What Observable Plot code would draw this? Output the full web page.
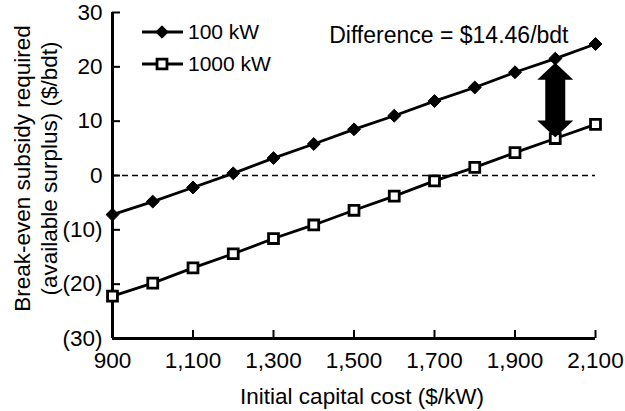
<!DOCTYPE html>
<html><head><meta charset="utf-8">
<script src="https://cdn.jsdelivr.net/npm/d3@7"></script>
<script src="https://cdn.jsdelivr.net/npm/@observablehq/plot@0.6"></script>
<style>
body{margin:0;background:#fff;}
#wrap{position:relative;width:625px;height:411px;font-family:"Liberation Sans",Arial,Helvetica,sans-serif;}
#legend{position:absolute;left:140px;top:16px;}
</style>
</head><body><div id="wrap"></div>
<script>
// ---- data ----
const capitalCost = [900, 1000, 1100, 1200, 1300, 1400, 1500, 1600, 1700, 1800, 1900, 2000, 2100];
const series100kW = [-7.2, -4.8, -2.2, 0.4, 3.2, 5.8, 8.5, 11.0, 13.7, 16.2, 19.0, 21.5, 24.2];
const series1000kW = [-22.2, -19.8, -17.0, -14.4, -11.6, -9.1, -6.4, -3.8, -1.0, 1.5, 4.2, 6.8, 9.4];
const seriesNames = ["100 kW", "1000 kW"];
const xTicks = [900, 1100, 1300, 1500, 1700, 1900, 2100];
const yTicks = [-30, -20, -10, 0, 10, 20, 30];
const xDomain = [900, 2100];
const yDomain = [-30, 30];
const arrowAt = 2000;
const annotation = "Difference = $14.46/bdt";
const xTitle = "Initial capital cost ($/kW)";
const yTitle = "Break-even subsidy required\n(available surplus) ($/bdt)";

const rows = capitalCost.flatMap((c, i) => [
  {cost: c, value: series100kW[i], series: seriesNames[0]},
  {cost: c, value: series1000kW[i], series: seriesNames[1]}
]);
const d100 = rows.filter(d => d.series === seriesNames[0]);
const d1000 = rows.filter(d => d.series === seriesNames[1]);
const ai = capitalCost.indexOf(arrowAt);
const arrowTop = series100kW[ai], arrowBottom = series1000kW[ai];

const upHead = {draw(ctx){ctx.moveTo(0,0);ctx.lineTo(18,17);ctx.lineTo(-18,17);ctx.closePath();}};
const downHead = {draw(ctx){ctx.moveTo(0,0);ctx.lineTo(18,-17);ctx.lineTo(-18,-17);ctx.closePath();}};

const yFmt = d => d < 0 ? `(${-d})` : `${d}`;
const xFmt = d3.format(",");

const chart = Plot.plot({
  width: 625,
  height: 411,
  marginLeft: 112,
  marginRight: 30,
  marginTop: 12,
  marginBottom: 73,
  style: {fontFamily: '"Liberation Sans", Arial, Helvetica, sans-serif', fontSize: "22px", color: "black", background: "white", overflow: "visible"},
  x: {domain: xDomain},
  y: {domain: yDomain},
  marks: [
    Plot.axisX({ticks: xTicks, tickFormat: xFmt, tickSize: -8, tickPadding: 22, strokeWidth: 2, label: null, fontSize: 22.5, fill: "black"}),
    Plot.axisY({ticks: yTicks, tickFormat: yFmt, tickSize: -8, tickPadding: 18, strokeWidth: 2, label: null, fontSize: 22.5, fill: "black"}),
    Plot.ruleY([0], {stroke: "black", strokeWidth: 1.6, strokeDasharray: "6,4"}),
    Plot.ruleX([xDomain[0]], {stroke: "black", strokeWidth: 3}),
    Plot.ruleY([yDomain[0]], {stroke: "black", strokeWidth: 3}),
    Plot.line(d100, {x: "cost", y: "value", stroke: "black", strokeWidth: 2.8}),
    Plot.line(d1000, {x: "cost", y: "value", stroke: "black", strokeWidth: 2.8}),
    Plot.dot(d100, {x: "cost", y: "value", symbol: "diamond2", r: 5.8, fill: "black", stroke: "black", strokeWidth: 1}),
    Plot.dot(d1000, {x: "cost", y: "value", symbol: "square", r: 5.6, fill: "white", stroke: "black", strokeWidth: 2.8}),
    Plot.ruleX([arrowAt], {x: d => d, y1: () => arrowTop, y2: () => arrowBottom, stroke: "black", strokeWidth: 20, insetTop: 19, insetBottom: 16}),
    Plot.dot([arrowAt], {x: d => d, y: () => arrowTop, symbol: upHead, fill: "black", stroke: "none", dy: 4}),
    Plot.dot([arrowAt], {x: d => d, y: () => arrowBottom, symbol: downHead, fill: "black", stroke: "none", dy: -1}),
    Plot.text([annotation], {text: d => d, frameAnchor: "top-right", textAnchor: "end", lineAnchor: "middle", dx: -27, dy: 23, fontSize: 23, fill: "black"}),
    Plot.text([xTitle], {text: d => d, frameAnchor: "bottom", textAnchor: "middle", lineAnchor: "middle", dx: 8, dy: 58, fontSize: 22.5, fill: "black"}),
    Plot.text([yTitle], {text: d => d, frameAnchor: "left", textAnchor: "middle", rotate: -90, lineAnchor: "middle", lineHeight: 1.23, dx: -78, dy: -7, fontSize: 22.5, fill: "black"})
  ]
});
const wrap = document.getElementById("wrap");
wrap.appendChild(chart);

// legend overlay
const lg = d3.create("svg").attr("id", "legend").attr("width", 170).attr("height", 70)
  .style("font-family", '"Liberation Sans", Arial, Helvetica, sans-serif');
const symbols = [d3.symbolDiamond2, d3.symbolSquare];
seriesNames.forEach((name, i) => {
  const g = lg.append("g").attr("transform", `translate(0,${16 + i * 32})`);
  g.append("line").attr("x1", 2).attr("x2", 43).attr("stroke", "black").attr("stroke-width", 2.8);
  g.append("path").attr("transform", "translate(22,0)")
    .attr("d", d3.symbol(symbols[i], Math.PI * 5.6 * 5.6)())
    .attr("fill", i === 0 ? "black" : "white").attr("stroke", "black").attr("stroke-width", i === 0 ? 1 : 2.8);
  g.append("text").attr("x", 48).attr("dy", "0.35em").attr("font-size", 21).attr("fill", "black").text(name);
});
wrap.appendChild(lg.node());
</script>
</body></html>
